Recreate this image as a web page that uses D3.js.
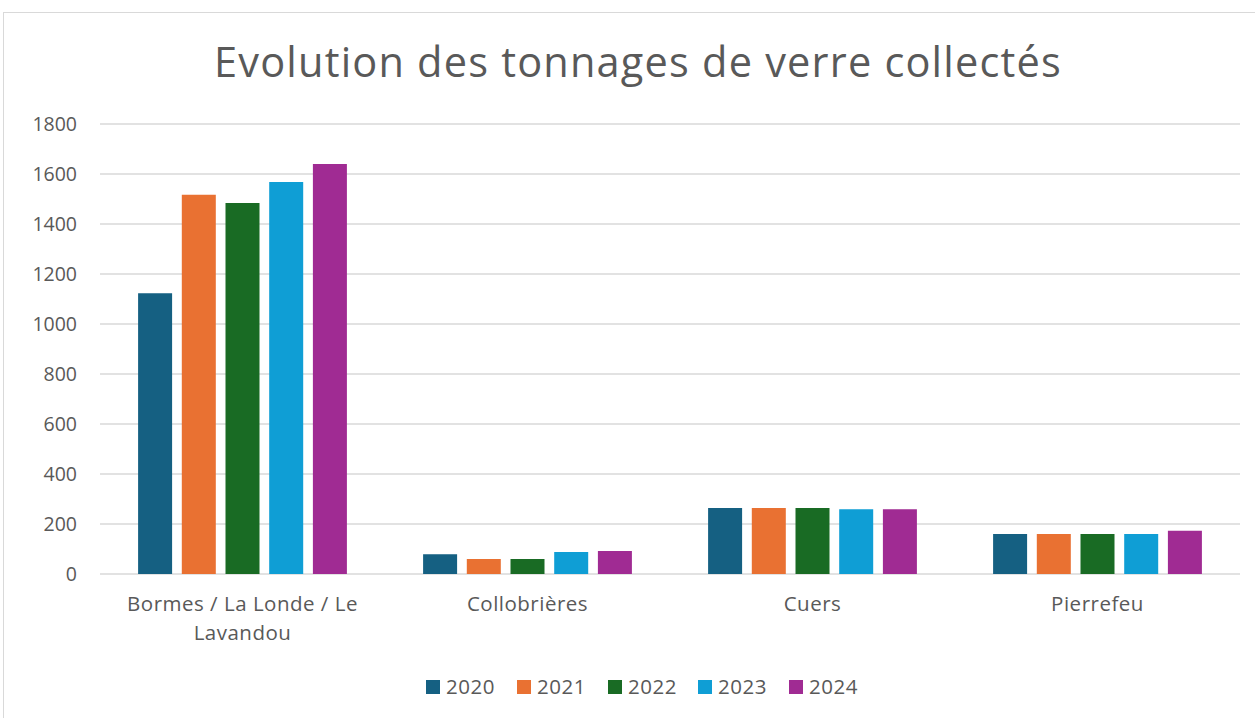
<!doctype html>
<html>
<head>
<meta charset="utf-8"/>
<title>Evolution des tonnages de verre collectés</title>
<script src="https://d3js.org/d3.v7.min.js"></script>
<style>
body{margin:0;background:#fff;}
text{font-family:"Open Sans","Liberation Sans",Arial,sans-serif;fill:#595959;}
</style>
</head>
<body>
<script>
// donnees (tonnes)
var communes = ["Bormes / La Londe / Le Lavandou", "Collobrières", "Cuers", "Pierrefeu"];
var annees = ["2020", "2021", "2022", "2023", "2024"];
var v2020 = [1123, 79, 264, 160];
var v2021 = [1517, 60, 264, 160];
var v2022 = [1484, 60, 264, 160];
var v2023 = [1568, 88, 259, 160];
var v2024 = [1640, 92, 259, 173];
var couleurs = ["#156082", "#E97132", "#196B24", "#0F9ED5", "#A02B93"];
var yTicks = [0, 200, 400, 600, 800, 1000, 1200, 1400, 1600, 1800];

var series = [v2020, v2021, v2022, v2023, v2024];

var W = 1255, H = 718;
var svg = d3.select("body").append("svg")
  .attr("width", W)
  .attr("height", H);

// cadre
svg.append("rect")
  .attr("x", 3.5).attr("y", 12.5)
  .attr("width", 1260).attr("height", 720)
  .attr("fill", "white")
  .attr("stroke", "#d9d9d9");

// titre
svg.append("text")
  .attr("x", 638).attr("y", 77)
  .attr("text-anchor", "middle")
  .attr("font-size", 41.5)
  .attr("letter-spacing", 1.2)
  .text("Evolution des tonnages de verre collectés");

var x0 = d3.scaleBand().domain(communes).range([100, 1240]);
var y = d3.scaleLinear().domain([0, 1800]).range([574, 124]);

// sous-bandes des années
var barW = 34, pas = 43.7;

// grille
svg.selectAll(".grid")
  .data(yTicks)
  .enter()
  .append("line")
  .attr("x1", 100).attr("x2", 1240)
  .attr("y1", function(d){ return y(d); })
  .attr("y2", function(d){ return y(d); })
  .attr("stroke", "#d9d9d9")
  .attr("stroke-width", 1.5);

svg.selectAll(".ylab")
  .data(yTicks)
  .enter()
  .append("text")
  .attr("x", 77)
  .attr("y", function(d){ return y(d) + 7; })
  .attr("text-anchor", "end")
  .attr("font-size", 19.5)
  .text(function(d){ return d; });

// barres
annees.forEach(function(a, j){
  svg.selectAll(".bar" + a)
    .data(series[j])
    .enter()
    .append("rect")
    .attr("x", function(d, i){ return x0(communes[i]) + x0.bandwidth()/2 + (j - 2) * pas - barW/2; })
    .attr("y", function(d){ return y(d); })
    .attr("width", barW)
    .attr("height", function(d){ return y(0) - y(d); })
    .attr("fill", couleurs[j]);
});

// etiquettes categories
var lignes = {"Bormes / La Londe / Le Lavandou": ["Bormes / La Londe / Le", "Lavandou"]};
communes.forEach(function(c){
  var l = lignes[c] || [c];
  var t = svg.append("text")
    .attr("x", x0(c) + x0.bandwidth()/2)
    .attr("y", 611)
    .attr("text-anchor", "middle")
    .attr("font-size", 20.5)
    .attr("letter-spacing", 0.5);
  l.forEach(function(s, k){
    t.append("tspan")
      .attr("x", x0(c) + x0.bandwidth()/2)
      .attr("dy", k == 0 ? 0 : 29)
      .text(s);
  });
});

// legende
var legX = [426, 517, 608, 698, 789];
annees.forEach(function(a, j){
  svg.append("rect")
    .attr("x", legX[j]).attr("y", 680)
    .attr("width", 14).attr("height", 14)
    .attr("fill", couleurs[j]);
  svg.append("text")
    .attr("x", legX[j] + 20).attr("y", 694)
    .attr("font-size", 20.5)
    .attr("letter-spacing", 0.5)
    .text(a);
});
</script>
</body>
</html>
